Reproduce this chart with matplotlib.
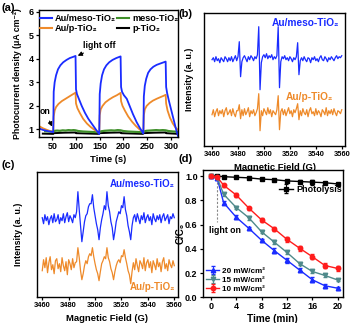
import matplotlib
matplotlib.use("Agg")
import matplotlib.pyplot as plt
import numpy as np

plt.rcParams["font.family"] = ["Liberation Sans", "DejaVu Sans"]
plt.rcParams["font.weight"] = "bold"
plt.rcParams["axes.labelweight"] = "bold"
plt.rcParams["axes.linewidth"] = 1.0

BLUE = "#1a2cff"
ORANGE = "#ee8a2a"
GREEN = "#3f8f2a"
TEAL = "#4f8a8b"
RED = "#ff1c1c"

# (a) photocurrent
blue_t = [22, 30, 40, 48, 52, 53, 55, 58, 62, 67, 73, 80, 87, 94, 99,
          100, 102, 106, 112, 119, 126, 133, 140, 146, 149,
          150, 152, 155, 159, 164, 170, 177, 185, 194,
          195, 197, 201, 207, 213, 220, 228, 235, 241,
          242, 243, 245, 248, 252, 257, 263, 270, 278, 285, 289,
          290, 292, 296, 301, 306, 311, 315]
blue_v = [1.04, 0.98, 0.93, 0.9, 0.88, 2.6, 3.0, 3.3, 3.55, 3.72, 3.85, 3.95, 4.03, 4.08, 4.12,
          2.7, 2.5, 2.3, 2.0, 1.7, 1.45, 1.25, 1.05, 0.88, 0.8,
          2.5, 2.95, 3.3, 3.55, 3.72, 3.85, 3.95, 4.03, 4.1,
          2.8, 2.6, 2.45, 2.3, 2.0, 1.65, 1.3, 1.05, 0.85,
          0.83, 2.4, 2.85, 3.15, 3.4, 3.55, 3.66, 3.74, 3.8, 3.85, 3.88,
          2.8, 2.55, 2.2, 1.8, 1.4, 1.0, 0.72]
orange_t = [22, 30, 40, 48, 52, 53, 55, 58, 63, 70, 78, 86, 94, 99,
            100, 103, 108, 115, 123, 131, 139, 146, 149,
            150, 152, 156, 162, 170, 178, 186, 194,
            195, 198, 203, 210, 218, 226, 234, 241,
            242, 243, 245, 249, 255, 262, 270, 278, 285, 289,
            290, 293, 298, 304, 310, 315]
orange_v = [1.14, 1.05, 0.97, 0.91, 0.88, 1.55, 1.8, 1.95, 2.08, 2.2, 2.3, 2.4, 2.5, 2.56,
            2.1, 1.9, 1.7, 1.45, 1.25, 1.1, 0.98, 0.9, 0.86,
            1.6, 1.85, 2.0, 2.15, 2.27, 2.37, 2.45, 2.55,
            2.2, 2.0, 1.8, 1.55, 1.33, 1.15, 1.0, 0.9,
            0.88, 1.6, 1.85, 2.0, 2.12, 2.22, 2.3, 2.37, 2.43, 2.47,
            2.1, 1.8, 1.5, 1.25, 1.07, 0.98]
green_t = [35, 45, 52, 55, 60, 66, 72, 78, 84, 90, 95, 99, 105, 115, 125, 135, 145, 149,
           153, 160, 167, 174, 181, 188, 194, 200, 210, 220, 230, 240, 243, 248, 255,
           262, 269, 276, 283, 289, 295, 305, 315]
green_v = [0.92, 0.91, 0.9, 0.94, 0.95, 0.94, 0.96, 0.95, 0.97, 0.96, 0.97, 0.96, 0.93, 0.91,
           0.9, 0.89, 0.88, 0.88, 0.92, 0.94, 0.95, 0.96, 0.95, 0.97, 0.96, 0.93, 0.91, 0.9,
           0.89, 0.88, 0.91, 0.94, 0.95, 0.96, 0.97, 0.96, 0.97, 0.96, 0.93, 0.91, 0.9]
black_t = [30, 52, 53, 75, 99, 100, 148, 149, 172, 194, 195, 241, 242, 265, 289, 290, 315]
black_v = [0.82, 0.81, 0.84, 0.86, 0.87, 0.84, 0.81, 0.84, 0.86, 0.87, 0.84, 0.81, 0.84,
           0.86, 0.87, 0.84, 0.81]

# (b) and (c) EPR, field 3460..3560 G in 1 G steps, intensity in a.u.
field = np.arange(3460, 3561)
epr_b_meso = [0, 2, -2, 3, -1, 1, -3, 2, 0, -2, 3, 1, -2, 2, -1, 3, -2, 1, 4, -1,
              3, 18, -17, -2,
              2, 4, 1, -2, 3, 0, 4, 2, -1, 3, 1, 5,
              33, -30, -3,
              3, 5, 2, 6, 1, 4, 2, 5, 0, 3, 1, 4,
              33, -28, -2,
              3, 1, 4, 0, 2, -1, 3, 1, -2, 2, 0, 3,
              17, -15, -1,
              2, -1, 3, 0, -2, 2, 1, -3, 2, 0, 3, -1, 1, -2, 2, 4, 0, -1, 3, 1, -2, 2,
              0, 3, 1, -1, 2, 4, 1, 3, 2, 4]
epr_b_p = [-2, 3, -4, 1, 4, -3, 2, -1, 3, -4, 2, 5, -2, 0, 3, -3, 4, -1, -4, 2,
           2, 8, -6, 3,
           -3, 4, -2, 1, 5, -4, 2, -1, 3, -3, 0, 4,
           19, -18, 2,
           -3, 4, 1, -2, 5, -1, 3, -4, 2, 0, -2, 3,
           17, -17, 1,
           4, -2, 3, -3, 1, 5, -1, 2, -4, 3, 0, 4,
           9, -7, 2,
           -3, 4, 0, -2, 3, -4, 2, 5, -1, 1, -3, 4, -2, 2, 0, -4, 3, 1, -2, 5, -3, 2,
           -1, 3, -2, 4, 0, -3, 2, 1, -1, 3]
epr_c_meso = [2, -4, 5, -1, 3, -5, 1, 4, -3, 6, -2, 0, 5, -4, 2, -1, 6, -3, 3, 7, -2, 4, 1, -3, 5, 2,
              8, 28, 10, -6, -22, -12, -2, 4, 6, 13, 16, 16, 25, 12, 4, -4, -10, -20, -8, 0, 6,
              14, 10, 28, 14, 8, -2, -8, -20, -12, -2, 3, 8, 6, 14, 12, 23, 10, 4, -6, -12,
              -20, -6, 2,
              5, -2, 6, 1, -4, 4, 0, 7, -3, 2, 5, -1, 3, -5, 6, 1, -2, 4, 0, 5, -3, 3, 6, -1,
              2, 5, -4, 3, 1, 6, 2]
epr_c_p = [-5, 6, -2, 8, -7, 3, 9, -4, 1, -8, 5, 7, -3, 2, -6, 8, 0, -5, 4, -9, 6, 2, -4, 7, -2, 3,
           4, 18, 8, -5, -14, -8, 0, 5, 2, 9, 12, 10, 18, 9, 2, -4, -8, -15, -6, 2, 5,
           9, 7, 18, 8, 4, -3, -7, -14, -6, 0, 4, 6, 3, 10, 9, 16, 8, 2, -5, -9,
           -18, -6, 3,
           -4, 7, 0, -6, 5, 2, -3, 8, -5, 3, 6, -2, 4, -7, 5, 1, -4, 7, -1, 3, -6, 4, 8, -3,
           2, -5, 6, 1, -2, 5, 0]

# (d) degradation
time_d = [0, 1, 2, 4, 6, 8, 10, 12, 14, 16, 18, 20]
photolysis = [1.0, 1.0, 0.995, 0.99, 0.985, 0.975, 0.97, 0.96, 0.955, 0.95, 0.945, 0.935]
photolysis_err = [0.004, 0.004, 0.005, 0.005, 0.006, 0.008, 0.008, 0.01, 0.01, 0.02, 0.01, 0.008]
c_10 = [1.0, 0.99, 0.925, 0.843, 0.735, 0.638, 0.565, 0.478, 0.405, 0.335, 0.262, 0.238]
c_15 = [1.0, 0.985, 0.85, 0.74, 0.655, 0.54, 0.455, 0.37, 0.278, 0.213, 0.18, 0.143]
c_20 = [1.0, 0.98, 0.78, 0.66, 0.568, 0.47, 0.385, 0.305, 0.225, 0.145, 0.095, 0.075]
err_10 = [0.008, 0.01, 0.012, 0.015, 0.012, 0.015, 0.018, 0.018, 0.02, 0.02, 0.018, 0.02]
err_15 = [0.008, 0.01, 0.012, 0.012, 0.015, 0.012, 0.015, 0.015, 0.015, 0.012, 0.012, 0.012]
err_20 = [0.008, 0.01, 0.012, 0.015, 0.012, 0.012, 0.018, 0.018, 0.015, 0.02, 0.015, 0.012]

W, H = 352, 323
fig = plt.figure(figsize=(W / 100, H / 100), dpi=100)


def px_axes(left, top, right, bottom):
    return fig.add_axes([left / W, 1 - bottom / H, (right - left) / W, (bottom - top) / H])


ax_a = px_axes(39, 10, 178, 136.7)
ax_b = px_axes(204, 12.7, 345, 145.7)
ax_c = px_axes(36.7, 171.7, 178, 296.7)
ax_d = px_axes(202.7, 170, 342.7, 297.3)

for ax in (ax_a, ax_b, ax_c, ax_d):
    ax.tick_params(direction="out", length=2.5, width=0.9, pad=1.2)

# ---- (a)
ax_a.plot(black_t, black_v, color="black", lw=1.4)
ax_a.plot(green_t, green_v, color=GREEN, lw=1.6)
ax_a.plot(orange_t, orange_v, color=ORANGE, lw=1.3)
ax_a.plot(blue_t, blue_v, color=BLUE, lw=1.3)
ax_a.set_xlim(22, 315)
ax_a.set_ylim(0.69, 6.07)
ax_a.set_xticks([50, 100, 150, 200, 250, 300])
ax_a.set_yticks([1, 2, 3, 4, 5, 6])
ax_a.tick_params(labelsize=6.5)
ax_a.set_xlabel("Time (s)", fontsize=6.8, labelpad=0.5)
ax_a.set_ylabel("Photocurrent density (μA cm⁻²)", fontsize=6.3)
ax_a.yaxis.set_label_coords(-0.125, 0.5)
ax_a.xaxis.set_label_coords(0.5, -0.147)
handles = [
    plt.Line2D([], [], color=BLUE, lw=1.5),
    plt.Line2D([], [], color=ORANGE, lw=1.5),
    plt.Line2D([], [], color=GREEN, lw=1.5),
    plt.Line2D([], [], color="black", lw=1.5),
]
labels = ["Au/meso-TiO₂", "Au/p-TiO₂", "meso-TiO₂", "p-TiO₂"]
ax_a.legend(handles, labels, ncol=2, loc="upper left", bbox_to_anchor=(0.0, 0.975),
            frameon=False, fontsize=6.6, handlelength=1.3, handletextpad=0.3,
            columnspacing=0.2, borderpad=0.1, borderaxespad=0, labelspacing=0.15)
ax_a.annotate("light off", xy=(103.6, 4.13), xytext=(115, 4.55), fontsize=6.3,
              ha="left", va="center",
              arrowprops=dict(arrowstyle="-|>,head_length=0.4,head_width=0.2",
                              color="black", lw=0.8, shrinkA=0, shrinkB=0))
ax_a.annotate("on", xy=(49.5, 1.12), xytext=(34.5, 1.77), fontsize=6.3,
              ha="center", va="center",
              arrowprops=dict(arrowstyle="-|>,head_length=0.4,head_width=0.2",
                              color="black", lw=0.8, shrinkA=2, shrinkB=0))

# ---- (b)
ax_b.plot(field, np.array(epr_b_meso) + 86, color=BLUE, lw=0.9)
ax_b.plot(field, np.array(epr_b_p) + 33, color=ORANGE, lw=0.9)
ax_b.set_xlim(3453.8, 3562.5)
ax_b.set_ylim(0, 133)
ax_b.set_yticks([])
ax_b.set_xticks(range(3460, 3561, 20))
ax_b.tick_params(labelsize=5.4)
ax_b.set_xlabel("Magnetic Field (G)", fontsize=6.8)
ax_b.set_ylabel("Intensity (a. u.)", fontsize=6.4)
ax_b.yaxis.set_label_coords(-0.071, 0.5)
ax_b.xaxis.set_label_coords(0.5, -0.13)
ax_b.text(0.957, 0.922, "Au/meso-TiO₂", color=BLUE, fontsize=7.3, ha="right", va="center",
          transform=ax_b.transAxes)
ax_b.text(0.915, 0.368, "Au/p-TiO₂", color=ORANGE, fontsize=7.3, ha="right", va="center",
          transform=ax_b.transAxes)

# ---- (c)
ax_c.plot(field, np.array(epr_c_meso) + 77, color=BLUE, lw=0.9)
ax_c.plot(field, np.array(epr_c_p) + 31, color=ORANGE, lw=0.9)
ax_c.set_xlim(3455.8, 3562.8)
ax_c.set_ylim(0, 125)
ax_c.set_yticks([])
ax_c.set_xticks(range(3460, 3561, 20))
ax_c.tick_params(labelsize=5.4)
ax_c.set_xlabel("Magnetic Field (G)", fontsize=6.8)
ax_c.set_ylabel("Intensity (a. u.)", fontsize=6.4)
ax_c.yaxis.set_label_coords(-0.095, 0.5)
ax_c.xaxis.set_label_coords(0.5, -0.135)
ax_c.text(0.979, 0.902, "Au/meso-TiO₂", color=BLUE, fontsize=7.0, ha="right", va="center",
          transform=ax_c.transAxes)
ax_c.text(0.979, 0.08, "Au/p-TiO₂", color=ORANGE, fontsize=7.0, ha="right", va="center",
          transform=ax_c.transAxes)

# ---- (d)
ms = 3.2
l_ph = ax_d.errorbar(time_d, photolysis, yerr=photolysis_err, color="black", marker="s",
                     ms=ms - 0.6, lw=1.0, capsize=1.2, elinewidth=0.7)
l20 = ax_d.errorbar(time_d, c_20, yerr=err_20, color=BLUE, marker="^", ms=ms, lw=1.0,
                    capsize=1.2, elinewidth=0.7)
l15 = ax_d.errorbar(time_d, c_15, yerr=err_15, color=TEAL, marker="v", ms=ms, lw=1.0,
                    capsize=1.2, elinewidth=0.7)
l10 = ax_d.errorbar(time_d, c_10, yerr=err_10, color=RED, marker="o", ms=ms, lw=1.0,
                    capsize=1.2, elinewidth=0.7)
ax_d.plot([1, 1], [0.985, 0.62], color="#888888", lw=0.8, ls=(0, (2, 1.5)))
ax_d.text(-0.3, 0.555, "light on", fontsize=6.3, ha="left", va="center")
ax_d.set_xlim(-1.3, 20.8)
ax_d.set_ylim(0, 1.05)
ax_d.set_xticks([0, 4, 8, 12, 16, 20])
ax_d.set_yticks([0.0, 0.2, 0.4, 0.6, 0.8, 1.0])
ax_d.tick_params(labelsize=6.5)
ax_d.set_xlabel("Time (min)", fontsize=7.2)
ax_d.set_ylabel("C/C₀", fontsize=7.0)
ax_d.yaxis.set_label_coords(-0.119, 0.5)
ax_d.xaxis.set_label_coords(0.5, -0.131)
leg1 = ax_d.legend([l_ph], ["Photolysis"], loc="upper right", bbox_to_anchor=(1.0, 0.89),
                   frameon=False, fontsize=6.5, handlelength=1.6, handletextpad=0.3,
                   borderpad=0.1, borderaxespad=0)
ax_d.add_artist(leg1)
ax_d.legend([l20, l15, l10], ["20 mW/cm²", "15 mW/cm²", "10 mW/cm²"], loc="lower left",
            bbox_to_anchor=(0.02, 0.03), frameon=False, fontsize=5.9, handlelength=1.6,
            handletextpad=0.3, borderpad=0.1, borderaxespad=0, labelspacing=0.12)

fig.text(1 / W, 1 - 8 / H, "(a)", fontsize=8, ha="left", va="center")
fig.text(178 / W, 1 - 14 / H, "(b)", fontsize=8, ha="left", va="center")
fig.text(1 / W, 1 - 165 / H, "(c)", fontsize=8, ha="left", va="center")
fig.text(178 / W, 1 - 159 / H, "(d)", fontsize=8, ha="left", va="center")

fig.savefig("out.png", dpi=100)
